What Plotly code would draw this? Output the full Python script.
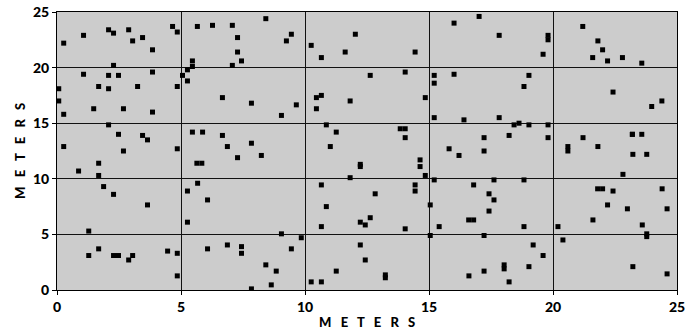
import plotly.graph_objects as go

# Point coordinates (meters)
x_m = [
    0.27, 1.07, 2.08, 2.28, 2.89, 3.05, 3.45, 3.85, 4.66, 4.85,
    5.66, 6.27, 7.07, 8.42, 7.28, 7.28, 7.44, 7.07, 5.46, 5.46,
    5.26, 5.06, 5.26, 2.28, 1.07, 2.08, 2.48, 3.85, 1.68, 2.08,
    3.25, 4.85, 0.07, 0.07, 0.27, 1.48, 2.68, 3.85, 6.67, 7.84,
    2.08, 2.48, 3.45, 3.65, 0.27, 2.68, 4.85, 5.46, 5.87, 6.67,
    6.87, 7.84,
    9.45, 9.25, 10.25, 12.03, 11.62, 10.66, 14.44, 16.01, 12.63, 14.04,
    15.21, 15.21, 16.01, 10.66, 10.46, 9.65, 11.82, 10.46, 9.05, 14.85,
    15.21, 16.41, 10.86, 11.26, 13.84, 14.04, 14.04, 11.02, 15.81,
    17.02, 17.83, 19.8, 19.8, 19.6, 21.2, 21.81, 22.0, 21.6, 22.2,
    22.8, 23.58, 19.03, 18.83, 17.83, 18.43, 18.63, 19.03, 19.8, 19.8,
    17.22, 18.23, 17.22, 23.2, 22.42, 23.98, 24.39, 21.21, 20.6, 20.6,
    21.81, 23.2, 23.58,
    1.68, 0.87, 1.68, 1.88, 2.28, 3.65, 1.28, 1.68, 1.28, 2.28,
    2.48, 3.05, 2.89, 4.46, 4.85, 4.85, 5.64, 5.84, 7.28, 8.24,
    5.67, 5.26, 6.07, 5.26, 6.07, 6.87, 7.44, 7.44, 8.42, 7.84,
    16.21, 12.23, 12.23, 14.64, 14.64, 14.85, 15.21, 11.82, 10.66, 12.83,
    14.44, 14.44, 10.86, 15.05, 12.23, 12.63, 12.43, 14.04, 15.41, 10.66,
    9.05, 9.85, 15.05, 9.45, 12.23, 12.43, 8.84, 8.64, 11.26, 13.24,
    13.24, 10.25, 10.66, 16.61,
    23.22, 23.78, 22.82, 16.8, 17.62, 18.83, 17.42, 17.62, 17.42, 16.6,
    16.8, 18.83, 17.22, 19.2, 19.6, 19.03, 18.03, 18.03, 17.22, 18.23,
    21.8, 22.0, 22.42, 24.4, 22.2, 23.0, 24.6, 21.61, 20.2, 23.6,
    23.78, 23.78, 20.4, 23.22, 24.6,
]
y_m = [
    22.2, 22.9, 23.4, 23.1, 23.4, 22.4, 22.7, 21.6, 23.7, 23.2,
    23.7, 23.8, 23.8, 24.4, 22.7, 21.4, 20.6, 20.2, 20.6, 20.1,
    19.8, 19.3, 18.8, 20.2, 19.4, 19.3, 19.3, 19.6, 18.3, 18.1,
    18.3, 18.3, 18.1, 17.0, 15.8, 16.3, 16.3, 16.0, 17.3, 16.8,
    14.85, 14.0, 13.9, 13.5, 12.9, 12.5, 12.7, 14.2, 14.2, 13.9,
    12.9, 13.2,
    23.0, 22.4, 22.0, 23.0, 21.4, 20.9, 21.4, 24.0, 19.3, 19.6,
    19.3, 18.6, 19.4, 17.5, 17.3, 16.65, 17.0, 16.3, 15.7, 17.3,
    15.5, 15.3, 14.85, 14.2, 14.5, 14.5, 13.7, 12.9, 12.7,
    24.6, 22.9, 22.9, 22.5, 21.2, 23.7, 22.4, 21.6, 20.9, 20.6,
    20.9, 20.4, 19.3, 18.3, 15.5, 14.85, 15.0, 14.85, 14.85, 13.7,
    13.7, 13.9, 12.5, 14.0, 17.8, 16.5, 17.0, 13.7, 12.9, 12.5,
    12.9, 14.0, 14.0,
    11.4, 10.7, 10.3, 9.3, 8.6, 7.65, 5.3, 3.7, 3.1, 3.1,
    3.1, 3.1, 2.7, 3.5, 3.3, 1.27, 11.4, 11.4, 11.9, 12.1,
    9.6, 8.9, 8.1, 6.1, 3.7, 4.05, 3.9, 3.3, 2.26, 0.1,
    12.1, 11.3, 11.1, 11.7, 11.1, 10.3, 9.9, 10.1, 9.45, 8.65,
    9.45, 8.9, 7.5, 7.65, 6.1, 6.5, 5.85, 5.5, 5.7, 5.7,
    5.05, 4.7, 4.9, 3.7, 4.05, 2.7, 1.7, 0.46, 1.7, 1.36,
    1.1, 0.73, 0.73, 1.27,
    12.2, 12.2, 10.4, 9.45, 9.9, 9.9, 8.65, 8.1, 7.1, 6.3,
    6.3, 5.7, 4.9, 4.05, 3.1, 2.1, 2.26, 1.9, 1.7, 0.73,
    9.1, 9.1, 8.9, 9.1, 7.65, 7.3, 7.3, 6.3, 5.7, 5.85,
    5.05, 4.8, 4.5, 2.1, 1.45,
]

x_ticks = [0, 5, 10, 15, 20, 25]
y_ticks = [0, 5, 10, 15, 20, 25]
axis_title = "\u00a0\u00a0\u00a0".join("METERS")

fig = go.Figure()
fig.add_trace(go.Scatter(
    x=x_m, y=y_m, mode="markers",
    marker=dict(symbol="square", size=5, color="black", line=dict(width=0)),
    showlegend=False, hoverinfo="skip",
))

tick_font = dict(family="Lato, DejaVu Sans, sans-serif", size=14, color="black", weight=900)
title_font = dict(family="Lato, DejaVu Sans, sans-serif", size=13, color="black", weight=900)

common = dict(
    range=[0, 25],
    showgrid=True, gridcolor="#111111", gridwidth=1,
    showline=True, linecolor="black", linewidth=1, mirror=True,
    ticks="outside", ticklen=4, tickcolor="black", tickwidth=1,
    zeroline=False, tickfont=tick_font, fixedrange=True, automargin=False,
)

fig.update_layout(
    width=691, height=331,
    margin=dict(l=57, r=14, t=12, b=41),
    paper_bgcolor="white", plot_bgcolor="#cccccc",
    xaxis=dict(**common, tickvals=x_ticks, ticktext=[str(t) for t in x_ticks]),
    yaxis=dict(**common, tickvals=y_ticks, ticktext=[str(t) for t in y_ticks]),
    annotations=[
        dict(text=axis_title, xref="paper", yref="paper", x=0.5, y=0,
             yshift=-32, xanchor="center", yanchor="middle",
             showarrow=False, font=title_font),
        dict(text=axis_title, xref="paper", yref="paper", x=0, y=0.5,
             xshift=-37, xanchor="center", yanchor="middle", textangle=-90,
             showarrow=False, font=title_font),
    ],
)

fig.write_html("out.html")
